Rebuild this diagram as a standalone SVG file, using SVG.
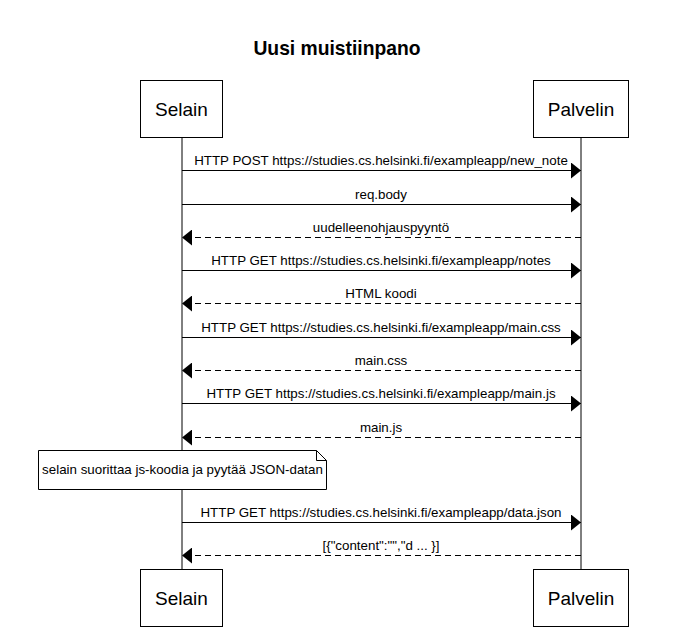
<svg xmlns="http://www.w3.org/2000/svg" width="673" height="631" viewBox="0 0 673 631">
<defs>
<style>
.box{fill:#fff;stroke:#000;stroke-width:1}
.actor{font-family:"Liberation Sans",Arial,sans-serif;font-size:19px;fill:#000;text-anchor:middle}
.lbl{font-family:"Liberation Sans",Arial,sans-serif;font-size:13.33px;fill:#000;text-anchor:middle}
.title{font-family:"Liberation Sans",Arial,sans-serif;font-size:19.3px;font-weight:bold;fill:#000;text-anchor:middle}
.life{stroke:#000;stroke-width:1}
.msg{stroke:#000;stroke-width:1;fill:none}
.dash{stroke-dasharray:6,4}
</style>
<marker id="ah" viewBox="0 0 10 16" refX="10" refY="8" markerWidth="10" markerHeight="16" markerUnits="userSpaceOnUse" orient="auto">
<path d="M0,0 L10,8 L0,16 Z" fill="#000"/>
</marker>
</defs>
<rect width="673" height="631" fill="#fff"/>
<text class="title" x="337" y="55">Uusi muistiinpano</text>
<g id="lifelines">
<line class="life" x1="182" y1="137" x2="182" y2="569"/>
<line class="life" x1="581" y1="137" x2="581" y2="569"/>
</g>
<g id="selain-top"><rect class="box" x="140.5" y="80.5" width="82" height="57"/><text class="actor" x="181.5" y="116">Selain</text></g>
<g id="palvelin-top"><rect class="box" x="533.5" y="80.5" width="95" height="57"/><text class="actor" x="581" y="116">Palvelin</text></g>
<g id="selain-bottom"><rect class="box" x="140.5" y="569.5" width="82" height="57"/><text class="actor" x="181.5" y="605">Selain</text></g>
<g id="palvelin-bottom"><rect class="box" x="533.5" y="569.5" width="95" height="57"/><text class="actor" x="581" y="605">Palvelin</text></g>
<g id="note"><path class="box" d="M38.5,450.5 H316.5 L326.5,460.5 V489.5 H38.5 Z"/><path class="msg" d="M316.5,450.5 V460.5 H326.5"/><text class="lbl" x="182.5" y="474">selain suorittaa js-koodia ja pyytää JSON-datan</text></g>
<g id="connectors">
<line class="msg" x1="182" y1="170.5" x2="581" y2="170.5" marker-end="url(#ah)"/>
<line class="msg" x1="182" y1="204.5" x2="581" y2="204.5" marker-end="url(#ah)"/>
<line class="msg dash" x1="581" y1="237.5" x2="182" y2="237.5" marker-end="url(#ah)"/>
<line class="msg" x1="182" y1="270.5" x2="581" y2="270.5" marker-end="url(#ah)"/>
<line class="msg dash" x1="581" y1="303.5" x2="182" y2="303.5" marker-end="url(#ah)"/>
<line class="msg" x1="182" y1="337.5" x2="581" y2="337.5" marker-end="url(#ah)"/>
<line class="msg dash" x1="581" y1="370.5" x2="182" y2="370.5" marker-end="url(#ah)"/>
<line class="msg" x1="182" y1="403.5" x2="581" y2="403.5" marker-end="url(#ah)"/>
<line class="msg dash" x1="581" y1="437.5" x2="182" y2="437.5" marker-end="url(#ah)"/>
<line class="msg" x1="182" y1="522.5" x2="581" y2="522.5" marker-end="url(#ah)"/>
<line class="msg dash" x1="581" y1="555.5" x2="182" y2="555.5" marker-end="url(#ah)"/>
<text class="lbl" x="381" y="165">HTTP POST https://studies.cs.helsinki.fi/exampleapp/new_note</text>
<text class="lbl" x="381" y="199">req.body</text>
<text class="lbl" x="381" y="232">uudelleenohjauspyyntö</text>
<text class="lbl" x="381" y="265">HTTP GET https://studies.cs.helsinki.fi/exampleapp/notes</text>
<text class="lbl" x="381" y="298">HTML koodi</text>
<text class="lbl" x="381" y="332">HTTP GET https://studies.cs.helsinki.fi/exampleapp/main.css</text>
<text class="lbl" x="381" y="365">main.css</text>
<text class="lbl" x="381" y="398">HTTP GET https://studies.cs.helsinki.fi/exampleapp/main.js</text>
<text class="lbl" x="381" y="432">main.js</text>
<text class="lbl" x="381" y="517">HTTP GET https://studies.cs.helsinki.fi/exampleapp/data.json</text>
<text class="lbl" x="381" y="550">[{"content":"","d ... }]</text>
</g>
</svg>
